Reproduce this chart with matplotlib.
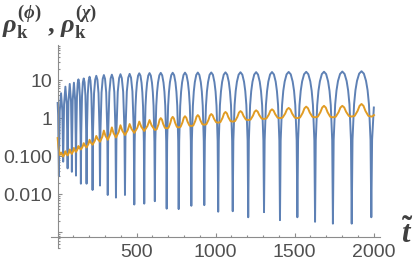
import matplotlib
matplotlib.use("Agg")
import matplotlib.pyplot as plt
from matplotlib.ticker import FixedLocator, FixedFormatter

# ---------------- data ----------------
blue_t = [0, 3, 6, 8,
    9.6, 13.4, 21.5, 29.6, 33.4, 35,
    36.7, 40.6, 49, 57.4, 61.3, 63,
    64.6, 68.4, 76.5, 84.6, 88.4, 90,
    91.6, 95.2, 103, 110.8, 114.4, 116,
    117.9, 122.2, 126.9, 131.5, 136.2, 140.8, 145.1, 147,
    149.2, 154.2, 159.6, 165, 170.4, 175.8, 180.8, 183,
    185.3, 190.6, 196.3, 202, 207.7, 213.4, 218.7, 221,
    223.8, 230.4, 237.5, 244.5, 251.6, 258.6, 265.2, 268,
    270.9, 277.8, 285.2, 292.5, 299.9, 307.2, 314.1, 317,
    320.1, 327.4, 335.2, 343, 350.8, 358.6, 365.9, 369,
    372.4, 380.4, 389, 397.5, 406, 414.6, 422.6, 426,
    429.5, 437.8, 446.7, 455.5, 464.4, 473.2, 481.5, 485,
    487.5, 492.6, 497, 502, 508.9, 516.5, 524.1, 531, 536, 540.4, 545.5, 548,
    550.7, 556, 560.7, 566.1, 573.5, 581.5, 589.5, 596.9, 602.3, 607, 612.3, 615,
    618, 624, 629.3, 635.3, 643.5, 652.5, 661.5, 669.8, 675.8, 681, 687, 690,
    693, 699.1, 704.4, 710.5, 718.9, 728, 737.1, 745.5, 751.6, 756.9, 763, 766,
    769.2, 775.6, 781.2, 787.6, 796.4, 806, 815.6, 824.4, 830.8, 836.4, 842.8, 846,
    849.3, 855.8, 861.6, 868.1, 877.2, 887, 896.8, 905.9, 912.4, 918.2, 924.7, 928,
    931.5, 938.6, 944.7, 951.8, 961.4, 972, 982.6, 992.2, 999.3, 1005.4, 1012.5, 1016,
    1019.7, 1027, 1033.5, 1040.8, 1051, 1062, 1073, 1083.2, 1090.5, 1097, 1104.3, 1108,
    1111.9, 1119.8, 1126.6, 1134.5, 1145.2, 1157, 1168.8, 1179.5, 1187.4, 1194.2, 1202.1, 1206,
    1210, 1218, 1225, 1233, 1244, 1256, 1268, 1279, 1287, 1294, 1302, 1306,
    1310, 1318.1, 1325.2, 1333.3, 1344.4, 1356.5, 1368.6, 1379.7, 1387.8, 1394.9, 1403, 1407,
    1411.4, 1420.2, 1427.9, 1436.7, 1448.8, 1462, 1475.2, 1487.3, 1496.1, 1503.8, 1512.6, 1517,
    1521.5, 1530.4, 1538.3, 1547.2, 1559.6, 1573, 1586.4, 1598.8, 1607.7, 1615.6, 1624.5, 1629,
    1633.5, 1642.6, 1650.5, 1659.5, 1671.9, 1685.5, 1699.1, 1711.5, 1720.5, 1728.4, 1737.5, 1742,
    1746.8, 1756.3, 1764.6, 1774.1, 1787.2, 1801.5, 1815.8, 1828.9, 1838.4, 1846.7, 1856.2, 1861,
    1866, 1875.9, 1884.6, 1894.5, 1908.1, 1923, 1937.9, 1951.5, 1961.4, 1970.1, 1980, 1985,
    1990, 2001]
blue_v = [2.5, 1.2, 0.15, 0.03,
    0.16, 1.55, 4.5, 1.55, 0.16, 0.072,
    0.23, 2.3, 6.7, 2.3, 0.23, 0.048,
    0.28, 2.7, 7.9, 2.7, 0.28, 0.039,
    0.3, 2.9, 8.5, 2.9, 0.3, 0.031,
    0.36, 3.6, 8.2, 10.4, 8.2, 3.6, 0.36, 0.019,
    0.39, 3.8, 8.7, 11, 8.7, 3.8, 0.39, 0.019,
    0.43, 4.2, 9.6, 12.2, 9.6, 4.2, 0.43, 0.013,
    0.45, 4.5, 10.2, 12.9, 10.2, 4.5, 0.45, 0.017,
    0.47, 4.7, 10.7, 13.5, 10.7, 4.7, 0.47, 0.0096,
    0.48, 4.8, 10.9, 13.8, 10.9, 4.8, 0.48, 0.0082,
    0.5, 4.9, 11.2, 14.2, 11.2, 4.9, 0.5, 0.0096,
    0.51, 5.0, 11.5, 14.5, 11.5, 5.0, 0.51, 0.0054,
    0.24, 2.0, 4.7, 8.4, 13.0, 15, 13.0, 8.4, 4.7, 2.0, 0.24, 0.0057,
    0.24, 2.1, 4.8, 8.5, 13.1, 15.2, 13.1, 8.5, 4.8, 2.1, 0.24, 0.0066,
    0.25, 2.1, 4.9, 8.6, 13.3, 15.4, 13.3, 8.6, 4.9, 2.1, 0.25, 0.0042,
    0.25, 2.1, 4.9, 8.7, 13.4, 15.5, 13.4, 8.7, 4.9, 2.1, 0.25, 0.0041,
    0.25, 2.1, 4.9, 8.7, 13.5, 15.6, 13.5, 8.7, 4.9, 2.1, 0.25, 0.005,
    0.25, 2.1, 5.0, 8.8, 13.6, 15.7, 13.6, 8.8, 5.0, 2.1, 0.25, 0.0052,
    0.25, 2.1, 5.0, 8.8, 13.7, 15.8, 13.7, 8.8, 5.0, 2.1, 0.25, 0.0035,
    0.25, 2.2, 5.0, 8.9, 13.8, 15.9, 13.8, 8.9, 5.0, 2.2, 0.25, 0.0036,
    0.26, 2.2, 5.1, 9.0, 13.8, 16.0, 13.8, 9.0, 5.1, 2.2, 0.26, 0.0025,
    0.26, 2.2, 5.1, 9.0, 13.9, 16.1, 13.9, 9.0, 5.1, 2.2, 0.26, 0.0034,
    0.26, 2.2, 5.1, 9.1, 14.0, 16.2, 14.0, 9.1, 5.1, 2.2, 0.26, 0.0021,
    0.26, 2.2, 5.2, 9.1, 14.1, 16.3, 14.1, 9.1, 5.2, 2.2, 0.26, 0.0025,
    0.26, 2.2, 5.2, 9.2, 14.2, 16.4, 14.2, 9.2, 5.2, 2.2, 0.26, 0.0019,
    0.26, 2.2, 5.2, 9.2, 14.3, 16.5, 14.3, 9.2, 5.2, 2.2, 0.26, 0.0017,
    0.27, 2.3, 5.3, 9.4, 14.4, 16.7, 14.4, 9.4, 5.3, 2.3, 0.27, 0.0017,
    0.27, 2.3, 5.4, 9.5, 14.7, 17.0, 14.7, 9.5, 5.4, 2.3, 0.27, 0.0025,
    0.27, 1.9]

orange_t = [0, 4, 8, 14, 22, 29, 35,
    43.4, 49, 54.6, 63,
    71.1, 76.5, 81.9, 90,
    97.8, 103, 108.2, 116,
    125.3, 131.5, 137.7, 147,
    157.8, 165, 172.2, 183,
    194.4, 202, 209.6, 221,
    235.1, 244.5, 253.9, 268,
    282.7, 292.5, 302.3, 317,
    332.6, 343, 353.4, 369,
    386.1, 397.5, 408.9, 426,
    443.7, 455.5, 467.3, 485,
    503.9, 516.5, 529.1, 548,
    568.1, 581.5, 594.9, 615,
    626.3, 637.5, 645, 652.5, 660, 667.5, 678.8, 690,
    701.4, 712.8, 720.4, 728, 735.6, 743.2, 754.6, 766,
    778, 790, 798, 806, 814, 822, 834, 846,
    858.3, 870.6, 878.8, 887, 895.2, 903.4, 915.7, 928,
    941.2, 954.4, 963.2, 972, 980.8, 989.6, 1002.8, 1016,
    1029.8, 1043.6, 1052.8, 1062, 1071.2, 1080.4, 1094.2, 1108,
    1122.7, 1137.4, 1147.2, 1157, 1166.8, 1176.6, 1191.3, 1206,
    1221, 1236, 1246, 1256, 1266, 1276, 1291, 1306,
    1321.2, 1336.3, 1346.4, 1356.5, 1366.6, 1376.7, 1391.9, 1407,
    1423.5, 1440, 1451, 1462, 1473, 1484, 1500.5, 1517,
    1533.8, 1550.6, 1561.8, 1573, 1584.2, 1595.4, 1612.2, 1629,
    1646, 1662.9, 1674.2, 1685.5, 1696.8, 1708.1, 1725, 1742,
    1759.9, 1777.7, 1789.6, 1801.5, 1813.4, 1825.3, 1843.2, 1861,
    1879.6, 1898.2, 1910.6, 1923, 1935.4, 1947.8, 1966.4, 1985,
    1994, 2002]
orange_v = [0.30, 0.19, 0.14, 0.108, 0.125, 0.108, 0.098,
    0.113, 0.135, 0.117, 0.105,
    0.123, 0.15, 0.129, 0.115,
    0.135, 0.165, 0.145, 0.13,
    0.152, 0.185, 0.165, 0.15,
    0.178, 0.22, 0.191, 0.17,
    0.209, 0.27, 0.229, 0.20,
    0.254, 0.34, 0.281, 0.24,
    0.324, 0.47, 0.346, 0.27,
    0.378, 0.57, 0.408, 0.31,
    0.433, 0.65, 0.47, 0.36,
    0.485, 0.70, 0.521, 0.41,
    0.557, 0.81, 0.594, 0.46,
    0.62, 0.89, 0.641, 0.49,
    0.508, 0.675, 0.899, 1.0, 0.912, 0.713, 0.556, 0.54,
    0.558, 0.736, 0.973, 1.08, 0.981, 0.76, 0.589, 0.57,
    0.59, 0.773, 1.013, 1.12, 1.025, 0.809, 0.639, 0.62,
    0.641, 0.835, 1.087, 1.2, 1.099, 0.871, 0.69, 0.67,
    0.692, 0.896, 1.161, 1.28, 1.184, 0.962, 0.78, 0.76,
    0.785, 1.016, 1.316, 1.45, 1.328, 1.053, 0.834, 0.81,
    0.836, 1.078, 1.391, 1.53, 1.411, 1.135, 0.915, 0.89,
    0.916, 1.159, 1.466, 1.6, 1.48, 1.201, 0.975, 0.95,
    0.978, 1.234, 1.557, 1.7, 1.569, 1.27, 1.027, 1.0,
    1.031, 1.318, 1.687, 1.85, 1.687, 1.318, 1.031, 1.0,
    1.035, 1.366, 1.802, 2.0, 1.816, 1.403, 1.084, 1.05,
    1.087, 1.434, 1.892, 2.1, 1.892, 1.434, 1.087, 1.05,
    1.087, 1.434, 1.892, 2.1, 1.907, 1.471, 1.136, 1.1,
    1.143, 1.548, 2.096, 2.35, 2.096, 1.548, 1.143, 1.1,
    1.12, 1.2]

x_major = [500, 1000, 1500, 2000]
x_labels = ["500", "1000", "1500", "2000"]
y_major = [0.001, 0.01, 0.1, 1, 10]
y_labels = ["", "0.010", "0.100", "1", "10"]

# ---------------- style ----------------
plt.rcParams['mathtext.fontset'] = 'custom'
plt.rcParams['mathtext.it'] = 'Liberation Serif:italic:bold'
plt.rcParams['mathtext.rm'] = 'Liberation Serif:bold'
plt.rcParams['mathtext.bf'] = 'Liberation Serif:bold'

BLUE = '#5E81B5'
ORANGE = '#E19C24'
AXC = '#8c8c8c'
TXC = '#505050'

fig = plt.figure(figsize=(4.14, 2.65), dpi=100)
ax = fig.add_axes([50.7/414, 1-248/265, 329.3/414, 203/265])

ax.plot(blue_t, blue_v, color=BLUE, lw=1.4, solid_joinstyle='round')
ax.plot(orange_t, orange_v, color=ORANGE, lw=1.4, solid_joinstyle='round')

ax.set_yscale('log')
ax.set_xlim(-44, 2040)
ax.set_ylim(3.9e-4, 83)

for s in ['top', 'right']:
    ax.spines[s].set_visible(False)
ax.spines['left'].set_position(('data', 0))
ax.spines['bottom'].set_position(('data', 7.7e-4))
for s in ['left', 'bottom']:
    ax.spines[s].set_color(AXC)
    ax.spines[s].set_linewidth(0.8)

ax.xaxis.set_major_locator(FixedLocator(x_major))
ax.xaxis.set_major_formatter(FixedFormatter(x_labels))
ax.xaxis.set_minor_locator(FixedLocator([m for m in range(100, 2001, 100) if m not in x_major]))
ax.yaxis.set_major_locator(FixedLocator(y_major))
ax.yaxis.set_major_formatter(FixedFormatter(y_labels))
yminor = [k * 10.0**e for e in range(-4, 2) for k in range(2, 10)]
ax.yaxis.set_minor_locator(FixedLocator(yminor))

ax.tick_params(which='both', direction='in', color=AXC, width=0.8,
               labelcolor=TXC, labelsize=14)
ax.tick_params(which='major', length=3.0)
ax.tick_params(which='minor', length=1.6)
ax.tick_params(axis='x', which='major', pad=5)
ax.tick_params(axis='y', which='major', pad=4)
for lab in ax.get_xticklabels() + ax.get_yticklabels():
    lab.set_fontfamily('Liberation Sans')

# labels
fig.text(0.004, 1 - 32/265,
         r"$\rho_{\mathbf{k}}^{(\phi)}$ , $\rho_{\mathbf{k}}^{(\chi)}$",
         fontsize=19, color='#404040', ha='left', va='baseline',
         fontfamily='Liberation Serif', fontweight='bold')
fig.text(1 - 1/414, 1 - 243/265, r"$\tilde{t}$", fontsize=22, color='#404040',
         ha='right', va='baseline')

fig.savefig('out.png', dpi=100)
